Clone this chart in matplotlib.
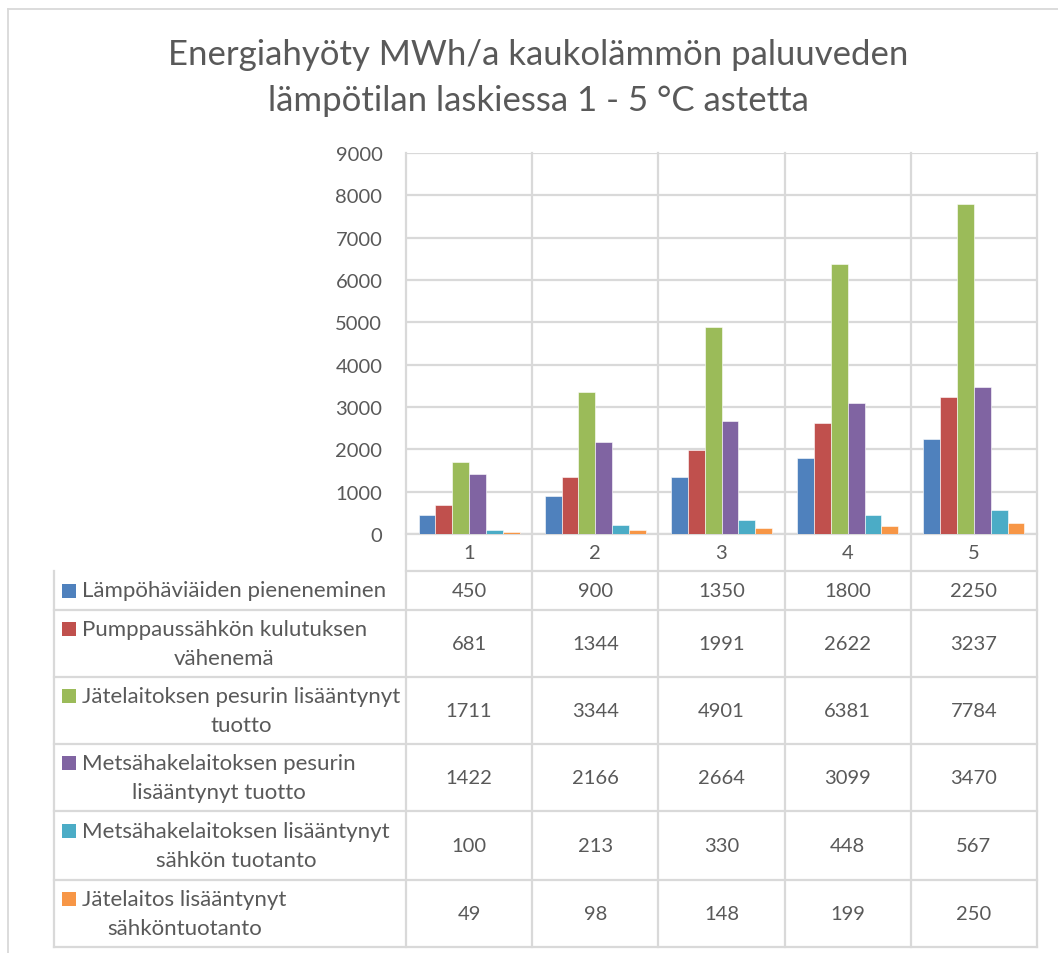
import matplotlib
matplotlib.use("Agg")
import matplotlib.pyplot as plt
import numpy as np

# Energy benefit per degree of return water temperature drop
categories = ["1", "2", "3", "4", "5"]
series_names = [
    "Lämpöhäviäiden pieneneminen",
    "Pumppaussähkön kulutuksen\nvähenemä",
    "Jätelaitoksen pesurin lisääntynyt\ntuotto",
    "Metsähakelaitoksen pesurin\nlisääntynyt tuotto",
    "Metsähakelaitoksen lisääntynyt\nsähkön tuotanto",
    "Jätelaitos lisääntynyt\nsähköntuotanto",
]
heat_loss = [450, 900, 1350, 1800, 2250]
pumping = [681, 1344, 1991, 2622, 3237]
waste_scrubber = [1711, 3344, 4901, 6381, 7784]
wood_scrubber = [1422, 2166, 2664, 3099, 3470]
wood_power = [100, 213, 330, 448, 567]
waste_power = [49, 98, 148, 199, 250]
series_values = [heat_loss, pumping, waste_scrubber, wood_scrubber, wood_power, waste_power]
colors = ["#4F81BD", "#C0504D", "#9BBB59", "#8064A2", "#4BACC6", "#F79646"]

title_lines = ["Energiahyöty MWh/a kaukolämmön paluuveden",
               "lämpötilan laskiessa 1 - 5 °C astetta"]

FONT = "Lato"
TXT = "#595959"
GRID = "#D9D9D9"

W, H = 1058, 954
fig = plt.figure(figsize=(W / 100, H / 100), dpi=100)

# pixel layout of plot area and data table
px_left, px_right = 406, 1037
px_top, px_zero = 154, 535
tbl_left = 54
row_edges = [535, 572, 611, 678, 745, 812, 881, 948]

# overlay in pixel coordinates for frame and table
ov = fig.add_axes([0, 0, 1, 1])
ov.set_xlim(0, W)
ov.set_ylim(H, 0)
ov.axis("off")

# chart frame (left and top edges)
ov.plot([8, 8], [10, H], color=GRID, lw=1.3)
ov.plot([8, W], [10, 10], color=GRID, lw=1.3)

ncat = len(categories)
col_w = (px_right - px_left) / ncat
col_edges = [px_left + col_w * i for i in range(ncat + 1)]

# table grid
for i, y in enumerate(row_edges):
    x0 = px_left if i < 2 else tbl_left
    ov.plot([x0, px_right], [y, y], color=GRID, lw=1.6)
for x in col_edges:
    ov.plot([x, x], [px_top, row_edges[-1]], color=GRID, lw=1.6)
ov.plot([tbl_left, tbl_left], [row_edges[1], row_edges[-1]], color=GRID, lw=1.6)

# category header row
for j, c in enumerate(categories):
    ov.text(col_edges[j] + col_w / 2, (row_edges[0] + row_edges[1]) / 2, c,
            ha="center", va="center", fontsize=14.5, color=TXT, family=FONT)

# series rows: legend key, name, values
for r, (name, vals, col) in enumerate(zip(series_names, series_values, colors)):
    y0, y1 = row_edges[r + 1], row_edges[r + 2]
    yc = (y0 + y1) / 2
    nlines = name.count("\n") + 1
    first_y = yc - (nlines - 1) * 15
    ov.add_patch(plt.Rectangle((62, first_y - 7), 14, 14, color=col, lw=0))
    ov.text(82, yc, name, ha="left", va="center", multialignment="center",
            fontsize=16, color=TXT, family=FONT, linespacing=1.6)
    for j, v in enumerate(vals):
        ov.text(col_edges[j] + col_w / 2, yc, str(v), ha="center", va="center",
                fontsize=14.5, color=TXT, family=FONT)

# bar chart axes
ax = fig.add_axes([px_left / W, 1 - px_zero / H,
                   (px_right - px_left) / W, (px_zero - px_top) / H])
ax.patch.set_alpha(0)
x = np.arange(1, ncat + 1)
bw = 1 / 7.5
for i, (vals, col) in enumerate(zip(series_values, colors)):
    ax.bar(x + (i - 2.5) * bw, vals, width=bw, color=col, edgecolor="white",
           linewidth=0.4, zorder=3)
ax.set_xlim(0.5, ncat + 0.5)
ax.set_ylim(0, 9000)
ax.set_yticks(np.arange(0, 9001, 1000))
ax.yaxis.grid(True, color=GRID, lw=1.6, zorder=0)
ax.set_xticks([])
ax.tick_params(axis="y", length=0, pad=17, labelsize=14.5, labelcolor=TXT)
for lbl in ax.get_yticklabels():
    lbl.set_family(FONT)
for s in ax.spines.values():
    s.set_visible(False)

# title
for line, ypx in zip(title_lines, [55, 101]):
    fig.text(538 / W, 1 - ypx / H, line, ha="center", va="center",
             fontsize=25, color=TXT, family=FONT)

fig.savefig("out.png", dpi=100, facecolor="white")
